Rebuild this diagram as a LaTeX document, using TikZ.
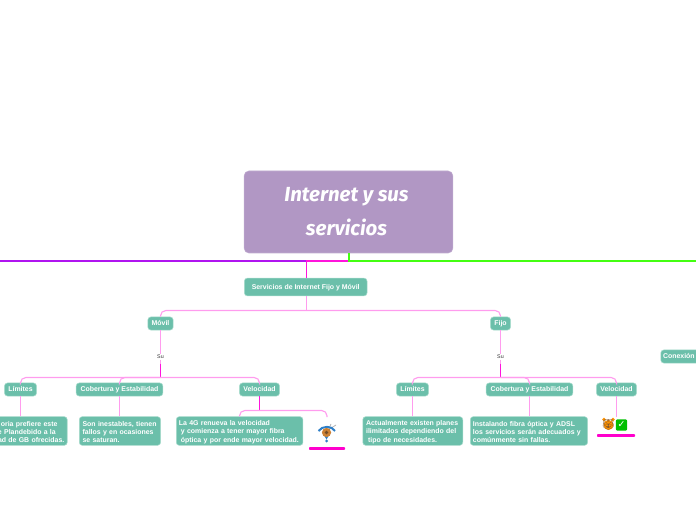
\documentclass[tikz,border=0pt]{standalone}
\usepackage{fontspec}
\setmainfont{Liberation Sans}
\newfontfamily\titlefont{Fira Sans}
\newfontfamily\emojifont{Noto Emoji}
\newfontfamily\dejavu{DejaVu Sans}
\newcommand{\tstrut}{\rule{0pt}{5.4pt}}
\definecolor{teal1}{HTML}{6BBFAA}
\definecolor{tealb}{HTML}{A9DCCD}
\definecolor{rootc}{HTML}{B197C4}
\definecolor{lpink}{HTML}{FF9CEE}
\definecolor{strongpink}{HTML}{FF14DC}
\definecolor{barpink}{HTML}{FF00CC}
\definecolor{leftpurple}{HTML}{B014F0}
\definecolor{grn}{HTML}{44FF11}
\definecolor{wifib}{HTML}{2E7FC8}
\tikzset{
 x=0.75pt,y=-0.75pt,
 box/.style={fill=teal1,draw=tealb,line width=0.4pt,rounded corners=2.2pt,text=white,inner sep=0pt,font=\fontsize{5.2pt}{6.1pt}\selectfont\bfseries,align=center,minimum height=9.8pt,text height=3.7pt,text depth=0pt},
 txtbox/.style={fill=teal1,draw=tealb,line width=0.4pt,rounded corners=2.2pt,text=white,inner sep=0pt,font=\fontsize{5.2pt}{6.2pt}\selectfont\bfseries,align=left,minimum height=21.5pt},
 thin link/.style={draw=lpink,line width=0.85pt,rounded corners=4pt},
 strong link/.style={draw=strongpink,line width=0.85pt},
 su/.style={inner sep=0.5pt,font=\fontsize{4pt}{4pt}\selectfont,text=black!80,fill=white},
 bar/.style={fill=barpink,draw=none,rounded corners=0.6pt},
}
\begin{document}
\begin{tikzpicture}
\useasboundingbox (0,0) rectangle (696,520);
\clip (0,0) rectangle (696,520);
% root
\node[fill=rootc,draw=rootc!80!white,line width=0.4pt,rounded corners=3.5pt,minimum width=156.5pt,minimum height=61.5pt,inner sep=0pt] (root) at (348.5,212) {};
\node[text=white,font=\titlefont\itshape\bfseries\fontsize{15.3pt}{25.5pt}\selectfont,align=center,inner sep=0pt] (title) at (346.5,212) {Internet y sus\\ servicios};
% main lines
\coordinate (rootdown) at (349,261);
\coordinate (lefttop) at (306.2,261);
\coordinate (leftend) at (0,261);
\coordinate (rightend) at (696,261);
\draw[draw=leftpurple,line width=1.4pt] (lefttop) -- (leftend);
\draw[draw=strongpink,line width=1.4pt] (rootdown) -- (lefttop);
\draw[draw=grn,line width=1.4pt] (root.south -| rootdown) -- (rootdown) -- (rightend);
\node[box,minimum width=92pt,minimum height=13.3pt] (serv) at (305.7,287) {Servicios de Internet Fijo y Móvil};
\draw[strong link] (lefttop) -- (lefttop |- serv.north);
% level 2
\node[box,minimum width=19pt] (movil) at (160.5,323.5) {Móvil};
\node[box,minimum width=15pt] (fijo) at (500.5,323.5) {Fijo};
\coordinate (busa) at (306.2,310.5);
\draw[thin link] (lefttop |- serv.south) -- (busa);
\draw[thin link] (movil.north) -- (160.5,310.5) -- (500.5,310.5) -- (fijo.north);
% Su
\node[su] (su1) at (160.5,357) {Su};
\node[su] (su2) at (500.5,357) {Su};
\draw[thin link] (movil.south) -- (su1.north);
\draw[thin link] (fijo.south) -- (su2.north);
\coordinate (j1) at (160.5,377.5);
\coordinate (j2) at (500.5,377.5);
\coordinate (m1) at (160.5,363.5);
\coordinate (m2) at (500.5,363.5);
\draw[thin link] (su1.south) -- (m1);
\draw[thin link] (su2.south) -- (m2);
\draw[strong link] (m1) -- (j1);
\draw[strong link] (m2) -- (j2);
% level 3 left
\node[box,minimum width=24pt] (lim1) at (20.5,389.5) {Límites};
\node[box,minimum width=65pt] (cob1) at (119.5,389.5) {Cobertura y Estabilidad};
\node[box,minimum width=30pt] (vel1) at (259.5,389.5) {Velocidad};
\draw[thin link] (lim1.north) -- (20.5,377.5) -- (259.5,377.5) -- (vel1.north);
\draw[thin link] (cob1.north) -- (119.5,377.5) -- (j1);
% level 3 right
\node[box,minimum width=24pt] (lim2) at (412.5,389.5) {Límites};
\node[box,minimum width=65pt] (cob2) at (529.5,389.5) {Cobertura y Estabilidad};
\node[box,minimum width=30pt] (vel2) at (616.5,389.5) {Velocidad};
\draw[thin link] (lim2.north) -- (412.5,377.5) -- (616.5,377.5) -- (vel2.north);
\draw[thin link] (cob2.north) -- (529.5,377.5) -- (j2);
% level 4 left
\node[txtbox,text width=65pt,align=right,anchor=east] (t1) at (67.5,431) {\tstrut oria prefiere este\rule{7.3pt}{0pt}\\ e Plandebido a la\rule{8.6pt}{0pt}\\ ad de GB ofrecidas.\rule{2.2pt}{0pt}};
\node[txtbox,minimum width=61pt,text width=56pt,anchor=west] (t2) at (79,431) {\tstrut Son inestables, tienen\\ fallos y en ocasiones\\ se saturan.};
\node[txtbox,minimum width=95pt,text width=91pt,anchor=west] (t3) at (176,431) {\tstrut La 4G renueva la velocidad\\ \hspace*{1.5pt}y comienza a tener mayor fibra\\ \hspace*{1.5pt}óptica y por ende mayor velocidad.};
\draw[thin link] (lim1.south) -- (t1.north -| lim1.south);
\draw[thin link] (cob1.south) -- (t2.north -| cob1.south);
\coordinate (vj) at (259.5,410.5);
\coordinate (wifitop) at (327,417);
\draw[strong link] (vel1.south) -- (vj);
\draw[thin link] (t3.north -| 239.5,0) -- (239.5,410.5) -- (327,410.5) -- (wifitop);
% wifi image
\fill[white] (316,423) rectangle (338,443);
\draw[gray!60,line width=0.6pt] (327,433) -- (331,424);
\draw[gray!60,line width=0.6pt] (328,430) -- (336,425);
\draw[wifib,line width=1.5pt] (318.5,431) .. controls (322,425.5) and (332,425.5) .. (335,431);
\fill[wifib] (326.5,441) circle (1.5);
\fill[wifib] (322,432) -- (326.5,439.5) -- (331,432) -- cycle;
\fill[brown!80!orange] (326.5,432.5) circle (4.6);
\fill[brown!60!black] (326.5,432.5) circle (1.8);
\node[bar,minimum width=27pt,minimum height=2.2pt,inner sep=0pt] (bar1) at (327,448.5) {};
% level 4 right
\node[txtbox,minimum width=75pt,text width=70pt,anchor=west] (t4) at (362.5,431) {\tstrut Actualmente existen planes\\ ilimitados dependiendo del\\ \hspace*{1.5pt}tipo de necesidades.};
\node[txtbox,minimum width=88pt,text width=84pt,anchor=west] (t5) at (470,431) {\tstrut Instalando fibra óptica y ADSL\\ los servicios serán adecuados y\\ comúnmente sin fallas.};
\draw[thin link] (lim2.south) -- (t4.north -| lim2.south);
\draw[thin link] (cob2.south) -- (t5.north -| cob2.south);
\coordinate (emo) at (616.5,417);
\draw[thin link] (vel2.south) -- (emo);
% emoji
\fill[orange!85!yellow] (608.5,425) circle (5);
\fill[orange!85!yellow] (604,419.5) circle (1.8) (613,419.5) circle (1.8);
\node[inner sep=0pt,text=brown!70!black,font=\emojifont\fontsize{8pt}{8pt}\selectfont] (tiger) at (608.5,424.5) {🐯};
\node[fill=green!75!black,rounded corners=1.5pt,minimum size=8.6pt,inner sep=0pt,text=white,font=\dejavu\bfseries\fontsize{7pt}{7pt}\selectfont] (check) at (621.5,425) {✓};
\node[bar,minimum width=28.5pt,minimum height=2.2pt,inner sep=0pt] (bar2) at (616,435.5) {};
% off-canvas node
\node[box,minimum width=50pt,text width=46.5pt,align=left,anchor=west] (con) at (660.5,356.5) {Conexión};
\end{tikzpicture}
\end{document}
